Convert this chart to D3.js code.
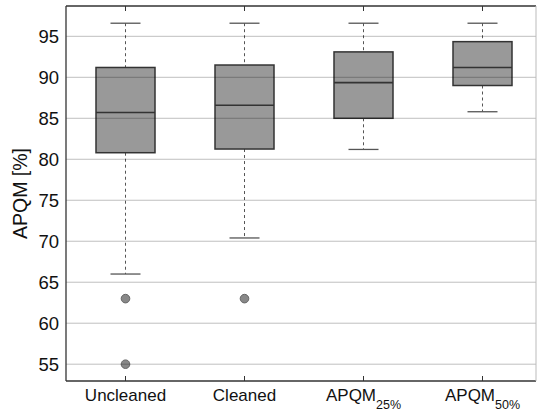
<!DOCTYPE html>
<html>
<head>
<meta charset="utf-8">
<script src="https://cdn.jsdelivr.net/npm/d3@7"></script>
<style>
  body { margin: 0; background: #fff; }
  text { font-family: "Liberation Sans", Arial, sans-serif; }
</style>
</head>
<body>
<div id="chart"></div>
<script>
// categories and box statistics
const categories = ["Uncleaned", "Cleaned", "APQM25", "APQM50"];
const labelMain = ["Uncleaned", "Cleaned", "APQM", "APQM"];
const labelSub = ["", "", "25%", "50%"];
const whiskerLow = [66.0, 70.4, 81.2, 85.8];
const q1 = [80.8, 81.25, 85.0, 89.0];
const median = [85.7, 86.6, 89.35, 91.2];
const q3 = [91.2, 91.5, 93.1, 94.35];
const whiskerHigh = [96.6, 96.6, 96.6, 96.6];
const outliers = [[63, 55], [63], [], []];
const yTicks = [55, 60, 65, 70, 75, 80, 85, 90, 95];

const margin = { top: 6, right: 1, bottom: 30, left: 66 },
  width = 537 - margin.left - margin.right,
  height = 411 - margin.top - margin.bottom;

const svg = d3
  .select("#chart")
  .append("svg")
  .attr("width", 537)
  .attr("height", 411)
  .append("g")
  .attr("transform", `translate(${margin.left},${margin.top})`);

const x = d3.scaleBand().domain(categories).range([0, 476]);
const y = d3.scaleLinear().domain([52.95, 98.7]).range([height, 0]);

const boxW = 59, capW = 30;

const data = categories.map((c, i) => ({
  cat: c,
  lo: whiskerLow[i],
  q1: q1[i],
  med: median[i],
  q3: q3[i],
  hi: whiskerHigh[i],
  out: outliers[i]
}));

const g = svg.selectAll(".box").data(data).join("g").attr("class", "box")
  .attr("transform", d => `translate(${x(d.cat) + x.bandwidth() / 2},0)`);

// whiskers (dashed)
g.append("line")
  .attr("y1", d => y(d.hi)).attr("y2", d => y(d.q3))
  .attr("stroke", "#555").attr("stroke-dasharray", "3,3");
g.append("line")
  .attr("y1", d => y(d.q1)).attr("y2", d => y(d.lo))
  .attr("stroke", "#555").attr("stroke-dasharray", "3,3");

// caps
g.selectAll(".cap").data(d => [d.hi, d.lo]).join("line")
  .attr("x1", -capW / 2).attr("x2", capW / 2)
  .attr("y1", v => y(v)).attr("y2", v => y(v))
  .attr("stroke", "#555").attr("stroke-width", 1.3);

// boxes
g.append("rect")
  .attr("x", -boxW / 2).attr("width", boxW)
  .attr("y", d => y(d.q3)).attr("height", d => y(d.q1) - y(d.q3))
  .attr("fill", "#999").attr("stroke", "#333").attr("stroke-width", 1.5);

// horizontal grid, drawn over the boxes like in the figure
svg.selectAll(".grid").data(yTicks).join("line")
  .attr("x1", 0).attr("x2", width)
  .attr("y1", d => y(d)).attr("y2", d => y(d))
  .attr("stroke", "#000").attr("stroke-opacity", 0.25);

// medians
g.append("line")
  .attr("x1", -boxW / 2).attr("x2", boxW / 2)
  .attr("y1", d => y(d.med)).attr("y2", d => y(d.med))
  .attr("stroke", "#333").attr("stroke-width", 1.6);

// outliers
g.selectAll("circle").data(d => d.out).join("circle")
  .attr("cx", 0).attr("cy", v => y(v)).attr("r", 4.3)
  .attr("fill", "#888").attr("stroke", "#666").attr("stroke-width", 1);

// frame
svg.append("line").attr("x1", 0).attr("x2", width).attr("y1", 0).attr("y2", 0)
  .attr("stroke", "#333").attr("stroke-width", 1.3);
svg.append("line").attr("x1", 0).attr("x2", width).attr("y1", height).attr("y2", height)
  .attr("stroke", "#333").attr("stroke-width", 1.3);
svg.append("line").attr("x1", 0).attr("x2", 0).attr("y1", 0).attr("y2", height)
  .attr("stroke", "#333").attr("stroke-width", 1.3);
svg.append("line").attr("x1", width).attr("x2", width).attr("y1", 0).attr("y2", height)
  .attr("stroke", "#bbb").attr("stroke-width", 1);

// category ticks top and bottom
svg.selectAll(".tt").data(categories).join("line")
  .attr("x1", d => x(d) + x.bandwidth() / 2).attr("x2", d => x(d) + x.bandwidth() / 2)
  .attr("y1", 0).attr("y2", 5).attr("stroke", "#333");
svg.selectAll(".tb").data(categories).join("line")
  .attr("x1", d => x(d) + x.bandwidth() / 2).attr("x2", d => x(d) + x.bandwidth() / 2)
  .attr("y1", height).attr("y2", height - 5).attr("stroke", "#333");

// y tick labels
svg.selectAll(".yl").data(yTicks).join("text")
  .attr("x", -7).attr("y", d => y(d)).attr("dy", "0.36em")
  .attr("text-anchor", "end").attr("font-size", 18.5).attr("fill", "#111")
  .text(d => d);

// x labels with subscripts
const xl = svg.selectAll(".xl").data(categories).join("text")
  .attr("x", d => x(d) + x.bandwidth() / 2).attr("y", height + 20)
  .attr("text-anchor", "middle").attr("font-size", 17).attr("fill", "#111");
xl.append("tspan").text((d, i) => labelMain[i]);
xl.append("tspan").attr("font-size", 12.5).attr("dy", 8).text((d, i) => labelSub[i]);

// y axis title
svg.append("text")
  .attr("transform", `translate(${-39},${height / 2}) rotate(-90)`)
  .attr("text-anchor", "middle").attr("font-size", 19.5).attr("fill", "#111")
  .text("APQM [%]");
</script>
</body>
</html>
